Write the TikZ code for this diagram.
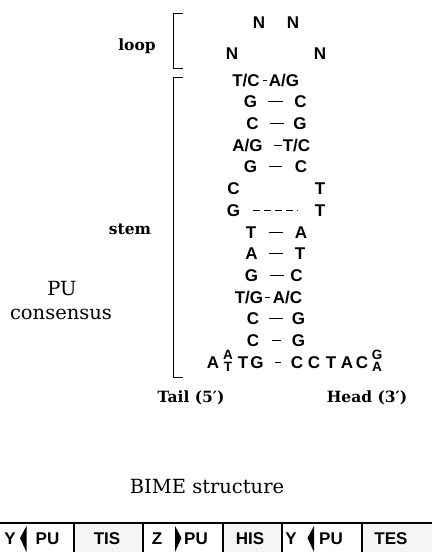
\documentclass[tikz,border=0pt]{standalone}
\usepackage{fontspec}
\setmainfont{DejaVu Serif}
\newfontfamily\nucfont{Liberation Sans}
\begin{document}
\begin{tikzpicture}[x=1pt,y=-1pt,
  nt/.style={font=\nucfont\bfseries\fontsize{17}{17}\selectfont, inner sep=0pt, text height=12.2pt, text depth=0pt},
  st/.style={font=\nucfont\bfseries\fontsize{13.5}{13.5}\selectfont, inner sep=0pt, text height=9.7pt, text depth=0pt},
  bp/.style={line width=1pt},
  lbl/.style={font=\bfseries\fontsize{15.5}{15.5}\selectfont, inner sep=0pt},
  big/.style={font=\fontsize{19.5}{19.5}\selectfont, inner sep=0pt},
  brk/.style={line width=0.9pt},
  bar/.style={line width=1.2pt},
  stip/.style={fill=black!4},
  wedgefill/.style={fill=black}
]
\useasboundingbox (0,0) rectangle (432,552);

% loop
\node[nt] (n1) at (259,22) {N};
\node[nt] (n2) at (293,22) {N};
\node[nt] (n3) at (232,53) {N};
\node[nt] (n4) at (320,53) {N};

% stem rows
\node[nt] (l0) at (246,80) {T/C};   \node[nt] (r0) at (284,80) {A/G};
\draw[bp, shorten <=3pt, shorten >=2pt] (l0) -- (r0);
\node[nt] (l1) at (250.5,101.7) {G}; \node[nt] (r1) at (300.5,101.7) {C};
\draw[bp, shorten <=10.5pt, shorten >=11.5pt] (l1) -- (r1);
\node[nt] (l2) at (252.5,123.4) {C}; \node[nt] (r2) at (300,123.4) {G};
\draw[bp, shorten <=11.5pt, shorten >=9.5pt] (l2) -- (r2);
\node[nt] (l3) at (247.5,145) {A/G}; \node[nt] (r3) at (296.5,145) {T/C};
\draw[bp, shorten <=11pt, shorten >=1pt] (l3) -- (r3);
\node[nt] (l4) at (250.5,166.8) {G}; \node[nt] (r4) at (301,166.8) {C};
\draw[bp, shorten <=11.5pt, shorten >=12.5pt] (l4) -- (r4);
\node[nt] (l5) at (233.5,188.5) {C}; \node[nt] (r5) at (320,188.5) {T};
\node[nt] (l6) at (233.5,210) {G}; \node[nt] (r6) at (320,210) {T};
\draw[bp, dash pattern=on 7pt off 4pt, shorten <=12.5pt, shorten >=17.5pt] (l6) -- (r6);
\node[nt] (l7) at (251,232) {T}; \node[nt] (r7) at (301,232) {A};
\draw[bp, shorten <=12.5pt, shorten >=11.5pt] (l7) -- (r7);
\node[nt] (l8) at (251.5,253.6) {A}; \node[nt] (r8) at (300,253.6) {T};
\draw[bp, shorten <=11.5pt, shorten >=11.5pt] (l8) -- (r8);
\node[nt] (l9) at (251.5,275) {G}; \node[nt] (r9) at (296.5,275) {C};
\draw[bp, shorten <=11.5pt, shorten >=6.5pt] (l9) -- (r9);
\node[nt] (l10) at (249,297) {T/G}; \node[nt] (r10) at (287.5,297) {A/C};
\draw[bp, shorten <=1.5pt, shorten >=3pt] (l10) -- (r10);
\node[nt] (l11) at (253,318.7) {C}; \node[nt] (r11) at (298.5,318.7) {G};
\draw[bp, shorten <=9.5pt, shorten >=8.5pt] (l11) -- (r11);
\node[nt] (l12) at (253,340) {C}; \node[nt] (r12) at (298.5,340) {G};
\draw[bp, shorten <=13pt, shorten >=11pt] (l12) -- (r12);

% base row
\node[nt] (b1) at (213,362) {A};
\node[st] (b2a) at (228,355) {A};
\node[st] (b2b) at (228,367) {T};
\node[nt] (b3) at (243,362) {T};
\node[nt] (l13) at (257,362) {G};
\node[nt] (r13) at (297,362) {C};
\node[nt] (h2) at (314,362) {C};
\node[nt] (h3) at (331,362) {T};
\node[nt] (h4) at (347,362) {A};
\node[nt] (h5) at (362,362) {C};
\node[st] (h6a) at (377,355) {G};
\node[st] (h6b) at (377,367) {A};
\draw[bp, shorten <=11.5pt, shorten >=9.5pt] (l13) -- (r13);

% brackets
\draw[brk] (183,13) -- (173,13) -- (173,68) -- (183,68);
\draw[brk] (183,77) -- (173,77) -- (173,377) -- (183,377);

% labels
\node[lbl] (loop) at (137,46) {loop};
\node[lbl] (stem) at (130,229) {stem};
\node[big] (pu) at (62,289) {PU};
\node[big] (cons) at (61,314) {consensus};
\node[lbl] (tail) at (191,398) {Tail (5′)};
\node[lbl] (head) at (367,398) {Head (3′)};
\node[big] (bime) at (207,487) {BIME structure};

% BIME bar
\fill[stip] (74,523) rectangle (143,552);
\fill[stip] (223,523) rectangle (282,552);
\fill[stip] (362,523) rectangle (432,552);
\draw[bar] (0,523) -- (432,523);
\foreach \x in {74,143,223,282,362} \draw[bar] (\x,523) -- (\x,552);
\fill[wedgefill] (26.5,526) -- (26.5,552) -- (20,538) -- cycle;
\fill[wedgefill] (175,526) -- (175,552) -- (181.5,538) -- cycle;
\fill[wedgefill] (314,526) -- (314,552) -- (307.5,538) -- cycle;
\node[nt] (s1) at (10,538) {Y};
\node[nt] (s2) at (47.5,538) {PU};
\node[nt] (s3) at (107,538) {TIS};
\node[nt] (s4) at (157,538) {Z};
\node[nt] (s5) at (196,538) {PU};
\node[nt] (s6) at (250,538) {HIS};
\node[nt] (s7) at (291,538) {Y};
\node[nt] (s8) at (331,538) {PU};
\node[nt] (s9) at (391,538) {TES};
\end{tikzpicture}
\end{document}
